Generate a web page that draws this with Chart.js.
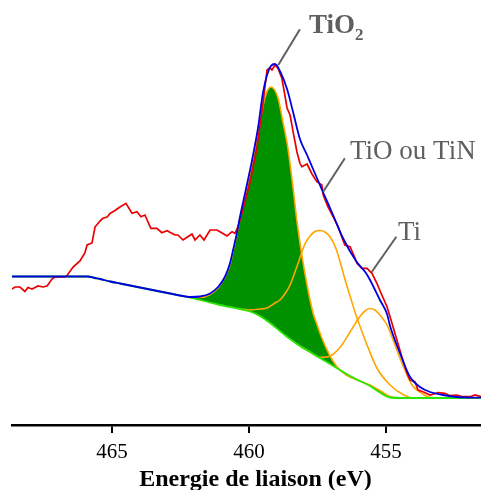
<!DOCTYPE html>
<html>
<head>
<meta charset="utf-8">
<title>Ti 2p</title>
<script src="https://cdn.jsdelivr.net/npm/chart.js@4.4.1/dist/chart.umd.min.js"></script>
<style>
    html, body { margin: 0; padding: 0; background: #fff; }
    canvas { display: block; }
</style>
</head>
<body>
<canvas id="xps-chart" width="481" height="490"></canvas>
<script>
(function () {
    'use strict';

    // Ti 2p spectrum: binding energy (eV) and intensity (arbitrary units)
    var measuredEnergy = [468.65, 468.54, 468.36, 468.18, 468.07, 467.92, 467.70, 467.52, 467.37, 467.19,
        467.08, 466.72, 466.64, 466.42, 466.17, 465.99, 465.91, 465.73, 465.62, 465.44,
        465.33, 465.18, 465.07, 464.89, 464.71, 464.49, 464.27, 464.09, 463.94, 463.80,
        463.58, 463.36, 463.18, 462.99, 462.70, 462.59, 462.41, 462.23, 462.08, 461.97,
        461.79, 461.64, 461.42, 461.17, 461.06, 460.80, 460.62, 460.51, 460.40, 460.26,
        460.15, 459.96, 459.71, 459.53, 459.42, 459.34, 459.23, 459.16, 459.05, 458.94,
        458.80, 458.69, 458.61, 458.50, 458.39, 458.25, 458.14, 458.07, 457.88, 457.70,
        457.52, 457.34, 457.29, 457.12, 456.93, 456.75, 456.57, 456.50, 456.31, 456.13,
        456.06, 455.88, 455.69, 455.51, 455.33, 455.15, 454.96, 454.78, 454.60, 454.42,
        454.23, 454.12, 453.94, 453.83, 453.65, 453.39, 453.10, 452.85, 452.66, 452.41,
        452.19, 451.93, 451.75, 451.53];
    var measuredCounts = [136, 138, 138, 133.5, 137.5, 136, 139, 138, 139, 146,
        148, 148, 149.5, 158, 164, 172, 180, 182, 198, 204,
        206.7, 208, 211.5, 214.5, 218, 221.7, 211.7, 213.3, 208.3, 210,
        196.7, 196.7, 192.3, 194.3, 190, 190, 185, 188.3, 191, 185,
        190, 185, 195, 195, 193.3, 189, 193.3, 191.7, 198.3, 212,
        223, 243.3, 277, 313, 337, 355, 357.3, 355, 360, 356.7,
        346.7, 330, 317, 310, 293.3, 273.3, 261.7, 258.3, 261, 251,
        243.3, 240, 230, 218.3, 208.3, 198.3, 185, 180, 178.3, 167,
        161.7, 156.7, 156.7, 151.7, 141.7, 130, 118.3, 101.7, 85, 68.3,
        51.7, 45, 43.3, 35, 33.3, 30, 32.3, 31.7, 29.3, 30,
        28.3, 28.3, 30, 28.3];

    var envelopeEnergy = [468.65, 465.88, 465.62, 465.44, 465.07, 464.71, 464.34, 463.98, 463.61, 463.25,
        462.88, 462.52, 462.15, 461.79, 461.42, 461.13, 460.88, 460.69, 460.58, 460.44,
        460.33, 460.22, 459.96, 459.85, 459.67, 459.49, 459.34, 459.20, 459.05, 458.87,
        458.61, 458.39, 458.14, 457.88, 457.66, 457.41, 457.30, 456.93, 456.57, 456.09,
        455.73, 455.58, 455.22, 454.96, 454.85, 454.49, 454.12, 453.76, 453.39, 452.92,
        452.41, 451.53];
    var envelopeCounts = [148.5, 148.5, 147, 146, 143.5, 141.5, 139.5, 137.5, 135.5, 133.5,
        131.5, 129.5, 128, 128.5, 131.5, 138, 148, 162, 175, 192,
        208, 222, 255, 270, 297, 332, 350, 359, 361, 354,
        336, 313, 286, 270, 256, 240, 233, 210, 187, 164,
        152, 145, 125, 111, 99, 72, 48, 38, 33, 30,
        28, 27.3];

    var backgroundEnergy = [468.65, 465.88, 465.62, 465.44, 465.07, 464.71, 464.34, 463.98, 463.61, 463.25,
        462.88, 462.52, 462.15, 461.79, 461.42, 461.06, 460.69, 460.33, 459.96, 459.60,
        459.23, 458.87, 458.50, 458.14, 457.77, 457.41, 457.04, 456.68, 456.31, 455.95,
        455.58, 455.22, 454.85, 454.49, 451.53];
    var backgroundCounts = [148.5, 148.5, 147, 146, 143.5, 141.5, 139.5, 137.5, 135.5, 133.5,
        131.5, 129.5, 127.5, 125, 122.5, 120, 118, 116, 113.5, 109,
        102, 94, 86, 79, 73, 67, 61, 55, 49, 44,
        39, 32.5, 27.5, 27, 27];

    // components, drawn on top of the background
    var tio2Energy = [462.15, 461.79, 461.42, 461.13, 460.88, 460.69, 460.58, 460.44, 460.33, 460.22,
        459.96, 459.67, 459.42, 459.20, 458.94, 458.76, 458.58, 458.39, 458.25, 458.07,
        457.88, 457.66, 457.55, 457.34, 457.04, 456.79, 456.42, 455.95, 455.58, 455.22,
        454.85, 454.49, 451.53];
    var tio2Counts = [127.5, 127.5, 130.5, 137, 147, 160.5, 173.5, 190.5, 206, 219,
        252, 292, 327, 338, 327, 303, 277, 237, 204, 170,
        140, 112, 103, 87, 69, 58.3, 49.5, 44, 40, 34.5,
        28.5, 27, 27];

    var tioEnergy = [460.33, 459.96, 459.60, 459.34, 459.05, 458.87, 458.69, 458.50, 458.32, 458.14,
        457.96, 457.77, 457.59, 457.41, 457.23, 457.04, 456.86, 456.68, 456.50, 456.31,
        456.13, 455.95, 455.69, 455.33, 454.85, 454.38, 454.01, 451.53];
    var tioCounts = [116, 115, 116, 117, 122, 125, 131, 140, 153, 167,
        181, 189, 193.5, 194.5, 193, 188, 179, 164, 146, 129,
        113, 99, 80, 57, 40, 30.5, 27, 27];

    var tiEnergy = [458.14, 457.77, 457.41, 457.04, 456.68, 456.31, 456.13, 455.95, 455.77, 455.58,
        455.40, 455.22, 454.96, 454.74, 454.49, 454.31, 454.05, 453.76, 453.50, 453.03,
        451.53];
    var tiCounts = [79, 73, 67.5, 69, 77.5, 93, 101, 108.5, 114, 116.5,
        115, 110, 100, 85, 67, 55, 40, 33, 28.5, 27,
        27];

    var tickValues = [465, 460, 455];
    var axisTitle = 'Energie de liaison (eV)';

    var FONT = '"Liberation Serif", "Times New Roman", serif';
    var LABEL_GREY = '#5f5f5f';

    // peak labels with their leader lines, in data units (eV, counts)
    var annotations = [
        { text: 'TiO', sub: '2', bold: true, at: [457.81, 391.7], from: [458.14, 395.7], to: [458.93, 360] },
        { text: 'TiO ou TiN', at: [456.31, 265.7], from: [456.50, 266.7], to: [457.29, 233.3] },
        { text: 'Ti', at: [454.56, 185], from: [454.62, 188.3], to: [455.52, 153] }
    ];

    function toPoints(energy, counts) {
        return energy.map(function (e, i) {
            return { x: e, y: counts[i] };
        });
    }

    /**
     * Draws the peak names, their leader lines and the axis title.
     */
    var peakLabels = {
        id: 'peakLabels',
        afterDatasetsDraw: function (chart) {
            var ctx = chart.ctx;
            var xs = chart.scales.x;
            var ys = chart.scales.y;

            ctx.save();
            ctx.strokeStyle = LABEL_GREY;
            ctx.fillStyle = LABEL_GREY;
            ctx.lineWidth = 2;
            ctx.textAlign = 'left';
            ctx.textBaseline = 'alphabetic';

            annotations.forEach(function (a) {
                ctx.beginPath();
                ctx.moveTo(xs.getPixelForValue(a.from[0]), ys.getPixelForValue(a.from[1]));
                ctx.lineTo(xs.getPixelForValue(a.to[0]), ys.getPixelForValue(a.to[1]));
                ctx.stroke();

                var px = xs.getPixelForValue(a.at[0]);
                var py = ys.getPixelForValue(a.at[1]);
                ctx.font = (a.bold ? 'bold ' : '') + '27px ' + FONT;
                ctx.fillText(a.text, px, py);
                if (a.sub) {
                    var w = ctx.measureText(a.text).width;
                    ctx.font = 'bold 17px ' + FONT;
                    ctx.fillText(a.sub, px + w, py + 7);
                }
            });

            // axis title sits a little right of the plot centre in the original
            var area = chart.chartArea;
            ctx.fillStyle = '#000';
            ctx.textAlign = 'center';
            ctx.font = 'bold 24px ' + FONT;
            ctx.fillText(axisTitle, (area.left + area.right) / 2 + 9, chart.height - 4);
            ctx.restore();
        }
    };

    var line = function (color, width) {
        return {
            borderColor: color,
            borderWidth: width,
            pointRadius: 0,
            fill: false,
            cubicInterpolationMode: 'monotone'
        };
    };

    var datasets = [
        Object.assign(line('rgb(0, 0, 225)', 1.8), {
            label: 'Enveloppe', data: toPoints(envelopeEnergy, envelopeCounts), order: 0
        }),
        Object.assign(line('rgb(235, 0, 0)', 1.7), {
            label: 'Mesure', data: toPoints(measuredEnergy, measuredCounts), order: 1,
            cubicInterpolationMode: 'default', tension: 0
        }),
        Object.assign(line('rgb(40, 230, 0)', 1.8), {
            label: 'Fond', data: toPoints(backgroundEnergy, backgroundCounts), order: 2
        }),
        Object.assign(line('rgb(255, 165, 0)', 1.6), {
            label: 'Ti', data: toPoints(tiEnergy, tiCounts), order: 3
        }),
        Object.assign(line('rgb(255, 165, 0)', 1.6), {
            label: 'TiO ou TiN', data: toPoints(tioEnergy, tioCounts), order: 4
        }),
        Object.assign(line('rgb(255, 165, 0)', 1.6), {
            label: 'TiO2', data: toPoints(tio2Energy, tio2Counts), order: 5,
            fill: { target: 2 },
            backgroundColor: 'rgb(0, 145, 0)'
        })
    ];

    var ctx = document.getElementById('xps-chart').getContext('2d');

    new Chart(ctx, {
        type: 'line',
        data: { datasets: datasets },
        options: {
            responsive: false,
            animation: false,
            devicePixelRatio: 1,
            layout: {
                padding: { left: 12, right: 0, top: 0, bottom: 0 }
            },
            plugins: {
                legend: { display: false },
                tooltip: { enabled: false }
            },
            scales: {
                x: {
                    type: 'linear',
                    reverse: true,
                    min: 451.53,
                    max: 468.65,
                    afterBuildTicks: function (scale) {
                        scale.ticks = tickValues.map(function (v) {
                            return { value: v };
                        });
                    },
                    afterFit: function (scale) {
                        scale.height = 65;
                    },
                    border: {
                        display: true,
                        color: '#000',
                        width: 2.5
                    },
                    grid: {
                        display: true,
                        drawOnChartArea: false,
                        drawTicks: true,
                        tickLength: 8,
                        color: '#000',
                        lineWidth: 2
                    },
                    ticks: {
                        color: '#000',
                        padding: 7,
                        maxRotation: 0,
                        font: { family: FONT, size: 21 }
                    },
                    title: { display: false }
                },
                y: {
                    display: false,
                    min: 0,
                    max: 425
                }
            }
        },
        plugins: [peakLabels]
    });
})();
</script>
</body>
</html>
